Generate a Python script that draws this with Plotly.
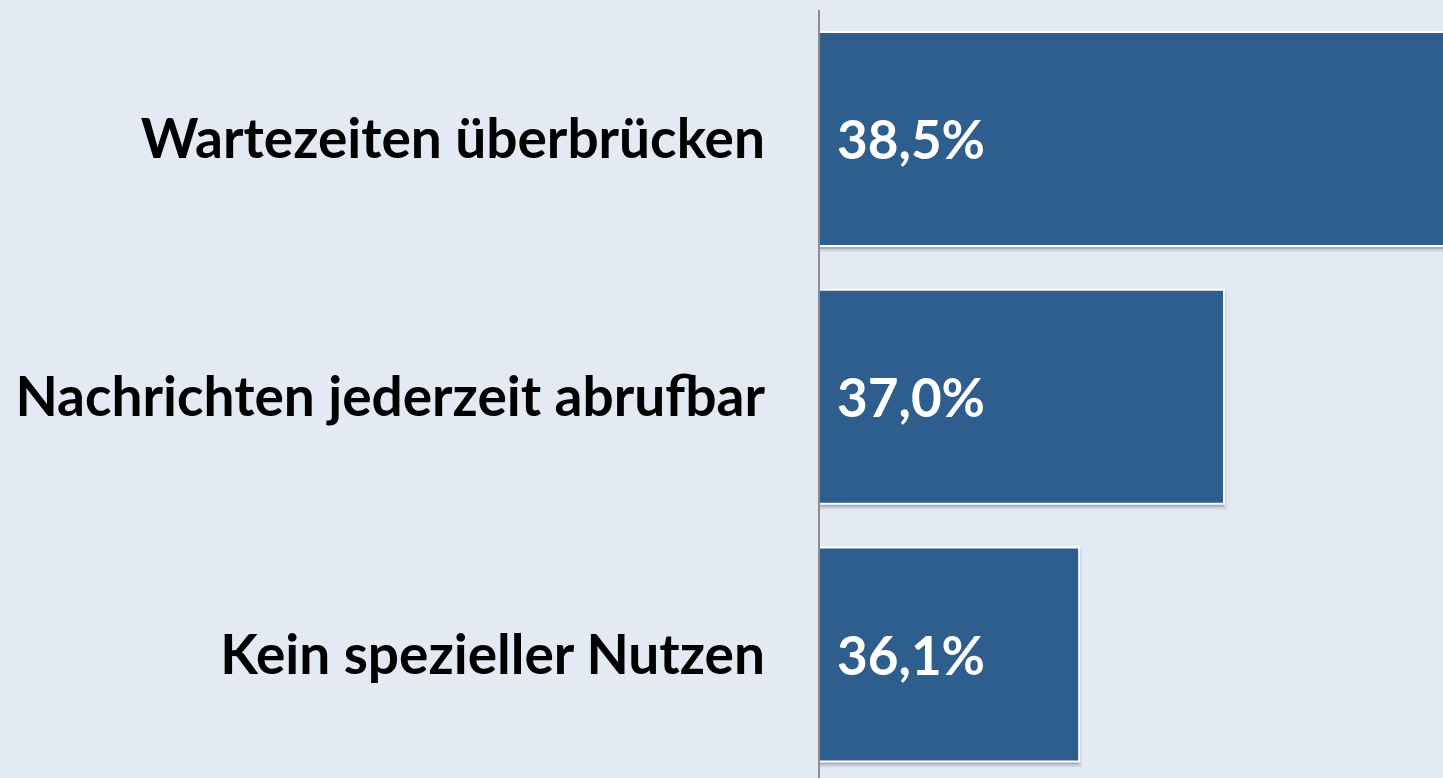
import plotly.graph_objects as go

categories = ["Wartezeiten überbrücken", "Nachrichten jederzeit abrufbar", "Kein spezieller Nutzen"]
values = [38.5, 37.0, 36.1]
value_labels = ["38,5%", "37,0%", "36,1%"]

x_lo, x_hi = 34.49, 38.36
BAR = "#2E5E8E"
BG = "#E3EAF4"
FONT = "Lato, Open Sans, sans-serif"

fig = go.Figure()
# soft shadow
fig.add_trace(go.Bar(
    y=categories, x=values, orientation="h", width=0.83, offset=-0.415 + 0.012,
    marker=dict(color="rgba(60,60,70,0.25)", line=dict(color="rgba(60,60,70,0.12)", width=5)),
    hoverinfo="skip", showlegend=False,
))
fig.add_trace(go.Bar(
    y=categories, x=values, orientation="h", width=0.83,
    marker=dict(color=BAR, line=dict(color="white", width=2)),
    showlegend=False,
))
for c, t in zip(categories, value_labels):
    fig.add_annotation(x=x_lo, y=c, text=t, xanchor="left", yanchor="middle", xshift=15,
                       showarrow=False, font=dict(family=FONT, size=53, color="white"))

fig.update_layout(
    width=1443, height=778,
    margin=dict(l=820, r=0, t=10, b=0, autoexpand=False),
    paper_bgcolor=BG, plot_bgcolor=BG,
    barmode="overlay",
    font=dict(family=FONT, size=55, color="black"),
    xaxis=dict(range=[x_lo, x_hi], showgrid=False, zeroline=False, showticklabels=False,
               showline=False, fixedrange=True, automargin=False),
    yaxis=dict(type="category", categoryorder="array", categoryarray=categories,
               range=[2.479, -0.5], showgrid=False, zeroline=False, showline=True,
               linecolor="#8C8C8C", linewidth=2, ticks="", ticklabelstandoff=42,
               automargin=False,
               tickfont=dict(family=FONT, size=55, color="black", weight="bold")),
)
fig.update_annotations(font_weight="bold")
fig.write_html("out.html", config={"displayModeBar": False},
               post_script="document.body.style.margin='0';")
